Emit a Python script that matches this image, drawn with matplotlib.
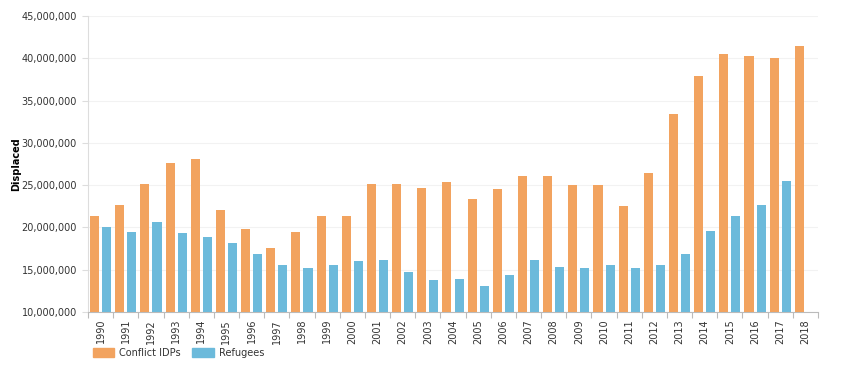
import matplotlib
matplotlib.use("Agg")
import matplotlib.pyplot as plt
import numpy as np
from matplotlib.ticker import FuncFormatter, MultipleLocator
from matplotlib.patches import Patch

years = [str(y) for y in range(1990, 2019)]
conflict_idps = [21.4, 22.6, 25.1, 27.6, 28.1, 22.1, 19.8, 17.6, 19.5, 21.4,
                 21.35, 25.1, 25.1, 24.7, 25.4, 23.4, 24.5, 26.1, 26.1, 25.0,
                 25.0, 22.5, 26.4, 33.4, 37.9, 40.55, 40.3, 40.0, 41.4]
refugees = [20.0, 19.5, 20.7, 19.3, 18.9, 18.2, 16.8, 15.6, 15.2, 15.6,
            16.0, 16.1, 14.7, 13.8, 13.9, 13.1, 14.4, 16.1, 15.3, 15.25,
            15.6, 15.25, 15.6, 16.8, 19.6, 21.4, 22.6, 25.5, None]

orange = "#f2a35f"
blue = "#6cbadb"
text_c = "#333333"

fig = plt.figure(figsize=(8.5, 3.68), dpi=100)
ax = fig.add_axes([88/850, (368-312)/368, (818-88)/850, (312-16)/368])

x = np.arange(len(years))
bw = 0.36
base = 10e6
ci = np.array(conflict_idps) * 1e6
ax.bar(x - 0.24, ci - base, bottom=base, width=bw, color=orange, zorder=3)
rx = [xi for xi, v in zip(x, refugees) if v is not None]
rv = np.array([v for v in refugees if v is not None]) * 1e6
ax.bar(np.array(rx) + 0.24, rv - base, bottom=base, width=bw, color=blue, zorder=3)

ax.set_xlim(-0.5, len(years) - 0.5)
ax.set_ylim(10e6, 45e6)
ax.yaxis.set_major_locator(MultipleLocator(5e6))
ax.yaxis.set_major_formatter(FuncFormatter(lambda v, p: f"{int(v):,}"))
ax.grid(axis="y", color="#f2f2f2", linewidth=0.8, zorder=0)

ax.set_xticks(x)
ax.set_xticklabels(years, rotation=90)
ax.set_xticks(np.arange(-0.5, len(years)), minor=True)
ax.tick_params(axis="x", which="major", length=0, pad=5, labelsize=7, labelcolor=text_c)
ax.tick_params(axis="x", which="minor", length=4, color="#bbbbbb", width=0.8)
ax.tick_params(axis="y", length=4, color="#dddddd", labelsize=7, labelcolor=text_c, pad=4)

for s in ["top", "right"]:
    ax.spines[s].set_visible(False)
ax.spines["left"].set_color("#dddddd")
ax.spines["bottom"].set_color("#bbbbbb")

ax.set_ylabel("Displaced", fontsize=7, fontweight="bold", color="black")
ax.yaxis.set_label_coords((21 - 88) / 730, 0.5)

handles = [Patch(color=orange, label="Conflict IDPs"), Patch(color=blue, label="Refugees")]
fig.legend(handles=handles, loc="center left", bbox_to_anchor=(84/850, 1 - 353/368),
           ncol=2, frameon=False, fontsize=7, labelcolor=text_c,
           handlelength=2.2, handleheight=1.1, handletextpad=0.5, columnspacing=1.2)

fig.savefig("out.png", dpi=100, facecolor="white")
